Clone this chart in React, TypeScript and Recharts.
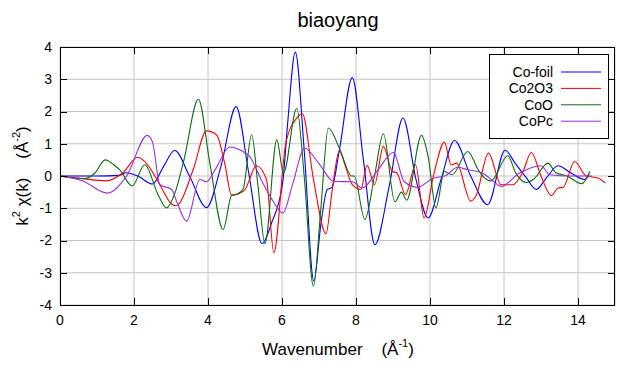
import React from "react";
import { LineChart, Line, XAxis, YAxis, CartesianGrid } from "recharts";

const FONT = "'Liberation Sans', Arial, sans-serif";
const GRID = "#c4c4c4";

const X_TICKS = [0, 2, 4, 6, 8, 10, 12, 14];
const Y_TICKS = [-4, -3, -2, -1, 0, 1, 2, 3, 4];
const X_MAX = 15;
const Y_MAX = 4;

// Co-foil
const foilK = [0, 1.0, 1.6, 1.8, 2.1, 2.5, 2.8, 3.1, 3.5, 3.96, 4.35, 4.76, 5.1, 5.46, 5.72, 6.02, 6.15, 6.36, 6.6, 6.86, 7.05, 7.22, 7.35, 7.55, 7.9, 8.2, 8.51, 8.9, 9.27, 9.62, 9.95, 10.3, 10.66, 11.1, 11.56, 12.03, 12.3, 12.6, 12.87, 13.15, 13.46, 13.8, 14.18, 14.3];
const foilChi = [0, 0, 0.02, 0.1, 0.0, -0.25, 0.3, 0.79, 0.0, -0.98, 0.3, 2.15, 0.1, -2.1, -1.45, -0.2, 1.6, 3.84, 0.8, -3.26, -1.5, -0.42, -0.35, 0.8, 3.05, 0.5, -2.13, -0.3, 1.8, -0.1, -1.3, -0.1, 1.1, 0.0, -0.89, 0.8, 0.4, -0.05, -0.42, -0.05, 0.32, 0.1, -0.11, 0.05];

// Co2O3
const co2o3K = [0, 0.6, 1.25, 1.7, 2.1, 2.4, 2.65, 3.0, 3.1, 3.2, 3.6, 3.96, 4.23, 4.45, 4.64, 4.83, 5.0, 5.31, 5.58, 5.78, 6.1, 6.4, 6.55, 6.85, 7.19, 7.35, 7.55, 7.7, 7.9, 8.13, 8.3, 8.5, 8.74, 8.98, 9.1, 9.34, 9.61, 9.84, 10.1, 10.39, 10.57, 10.72, 11.1, 11.25, 11.58, 11.92, 12.24, 12.5, 12.74, 13.0, 13.28, 13.46, 13.6, 13.91, 14.22, 14.54, 14.74];
const co2o3Chi = [0, -0.08, -0.15, 0.1, 0.58, 0.3, -0.17, -0.85, -0.92, -0.88, 0.2, 1.4, 1.28, 0.4, -0.6, -0.55, -0.42, 0.32, -0.11, -2.38, 1.0, 1.8, 1.93, -0.1, -1.79, -0.5, 0.78, 0.35, -0.27, -0.42, 0.33, -0.27, 0.92, 0.14, 0.1, -0.58, 0.35, -1.3, 0.04, 1.05, 0.35, 0.4, -0.78, -0.6, 0.71, -0.27, -0.27, 0.1, 0.73, 0.0, -0.61, -0.37, -0.35, 0.45, 0.0, -0.06, -0.22];

// CoO
const cooK = [0, 0.67, 0.95, 1.22, 1.45, 1.61, 1.95, 2.29, 2.65, 2.88, 3.1, 3.35, 3.74, 4.05, 4.41, 4.64, 4.8, 4.95, 5.18, 5.35, 5.54, 5.86, 6.04, 6.4, 6.6, 6.85, 7.05, 7.25, 7.57, 7.88, 7.95, 8.24, 8.5, 8.74, 9.05, 9.23, 9.37, 9.77, 9.95, 10.16, 10.39, 10.6, 11.02, 11.3, 11.47, 11.65, 12.1, 12.32, 12.6, 12.8, 13.19, 13.4, 13.7, 14.1, 14.32];
const cooChi = [0, -0.08, 0.1, 0.5, 0.35, 0.2, -0.31, 0.35, -0.58, -0.99, -0.55, 0.5, 2.38, 0.4, -1.66, -0.6, -0.55, -0.4, 1.28, -0.3, -2.1, 1.12, 0.09, 2.1, 0.0, -3.42, -1.0, 1.49, 0.81, 0.0, 0.0, -1.35, 0.0, 1.31, -0.8, -0.5, -0.75, 1.26, 0.6, -0.99, 0.14, 0.04, 0.76, 0.2, -0.06, -0.15, 0.63, 0.09, -0.2, -0.1, 0.4, 0.1, 0.0, -0.24, 0.15];

// CoPc
const copcK = [0, 0.6, 1.28, 1.8, 2.36, 2.5, 2.7, 3.02, 3.15, 3.42, 3.78, 3.96, 4.19, 4.59, 4.91, 5.13, 5.46, 5.82, 6.02, 6.3, 6.61, 6.99, 7.4, 7.9, 8.17, 8.6, 9.01, 9.3, 9.66, 10.1, 10.4, 10.75, 11.0, 11.4, 11.72, 11.92, 12.42, 13.0, 13.24, 13.8, 14.38];
const copcChi = [0, -0.15, -0.53, 0.0, 1.26, 1.05, -0.27, -0.42, -0.78, -1.4, -0.11, -0.18, 0.19, 0.9, 0.78, 0.6, -0.17, -0.89, -1.15, -0.2, 0.87, 0.4, -0.17, -0.18, -0.37, 0.2, 0.73, -0.17, -0.35, -0.06, 0.0, 0.27, 0.2, 0.1, -0.17, -0.32, 0.09, 0.32, 0.04, 0.0, 0.0];

const toRows = (k: number[], chi: number[]) => k.map((x, i) => ({ k: x, chi: chi[i] }));

const SERIES = [
  { name: "Co-foil", color: "#0000ff", data: toRows(foilK, foilChi) },
  { name: "Co2O3", color: "#ff0000", data: toRows(co2o3K, co2o3Chi) },
  { name: "CoO", color: "#0a6e0a", data: toRows(cooK, cooChi) },
  { name: "CoPc", color: "#9a2be0", data: toRows(copcK, copcChi) },
];

// plot box; the black frame is drawn crisp in the overlay
const W = 630;
const H = 380;
const PL = 60;
const PT = 47;
const PR = 615;
const PB = 305;
const TICK = 7;

const tickStyle = { fill: "#000", fontSize: 14, fontFamily: FONT };

export default function App() {
  const px = (v: number) => PL + ((PR - PL) * v) / X_MAX;
  const py = (v: number) => PT + ((PB - PT) * (Y_MAX - v)) / (2 * Y_MAX);
  return (
    <div style={{ position: "absolute", left: 0, top: 0, width: W, height: H, background: "#fff" }}>
      <LineChart width={W} height={H} margin={{ top: PT, right: W - PR, bottom: H - PB - 30, left: PL - 40 }}>
        <CartesianGrid stroke={GRID} />
        <XAxis
          type="number"
          dataKey="k"
          domain={[0, X_MAX]}
          ticks={X_TICKS}
          height={30}
          tickSize={-TICK}
          tickMargin={17}
          tick={tickStyle}
          axisLine={false}
          tickLine={false}
          allowDataOverflow
        />
        <YAxis
          type="number"
          domain={[-Y_MAX, Y_MAX]}
          ticks={Y_TICKS}
          width={40}
          tickSize={-TICK}
          tickMargin={15}
          tick={tickStyle}
          axisLine={false}
          tickLine={false}
          allowDataOverflow
        />
        {SERIES.map((s) => (
          <Line
            key={s.name}
            data={s.data}
            dataKey="chi"
            name={s.name}
            type="monotone"
            stroke={s.color}
            strokeWidth={1.1}
            dot={false}
            isAnimationActive={false}
          />
        ))}
      </LineChart>
      <svg width={W} height={H} style={{ position: "absolute", left: 0, top: 0, pointerEvents: "none" }}>
        <rect x={PL + 0.5} y={PT + 0.5} width={PR - PL - 1} height={PB - PT} fill="none" stroke="#000" />
        {X_TICKS.slice(1).map((t) => (
          <g key={"x" + t}>
            <line x1={Math.round(px(t)) + 0.5} x2={Math.round(px(t)) + 0.5} y1={PT} y2={PT + TICK} stroke="#000" />
            <line x1={Math.round(px(t)) + 0.5} x2={Math.round(px(t)) + 0.5} y1={PB - TICK} y2={PB} stroke="#000" />
          </g>
        ))}
        {Y_TICKS.slice(1, -1).map((t) => (
          <g key={"y" + t}>
            <line x1={PL} x2={PL + TICK} y1={Math.round(py(t)) + 0.5} y2={Math.round(py(t)) + 0.5} stroke="#000" />
            <line x1={PR - TICK} x2={PR} y1={Math.round(py(t)) + 0.5} y2={Math.round(py(t)) + 0.5} stroke="#000" />
          </g>
        ))}
        <text x={338} y={20} textAnchor="middle" dominantBaseline="central" fontFamily={FONT} fontSize={20} fill="#000">
          biaoyang
        </text>
        <text x={338} y={349} textAnchor="middle" dominantBaseline="central" fontFamily={FONT} fontSize={17} fill="#000">
          Wavenumber{"\u00a0\u00a0\u00a0\u00a0"}(Å<tspan dy={-6} fontSize={11}>-1</tspan><tspan dy={6}>)</tspan>
        </text>
        <text
          x={22}
          y={176}
          transform="rotate(-90 22 176)"
          textAnchor="middle"
          dominantBaseline="central"
          fontFamily={FONT}
          fontSize={17}
          fill="#000"
        >
          k<tspan dy={-6} fontSize={11}>2</tspan><tspan dy={6}> χ(k){"\u00a0\u00a0\u00a0\u00a0"}(Å</tspan><tspan dy={-6} fontSize={11}>-2</tspan><tspan dy={6}>)</tspan>
        </text>
        <rect x={489.5} y={54.5} width={119} height={84} fill="#fff" stroke="#000" strokeWidth={1} />
        {SERIES.map((s, i) => (
          <g key={s.name}>
            <text x={553} y={72 + i * 16.4} textAnchor="end" dominantBaseline="central" fontFamily={FONT} fontSize={14} fill="#000">
              {s.name}
            </text>
            <line x1={561} x2={601} y1={72 + i * 16.4} y2={72 + i * 16.4} stroke={s.color} strokeWidth={1} />
          </g>
        ))}
      </svg>
    </div>
  );
}
